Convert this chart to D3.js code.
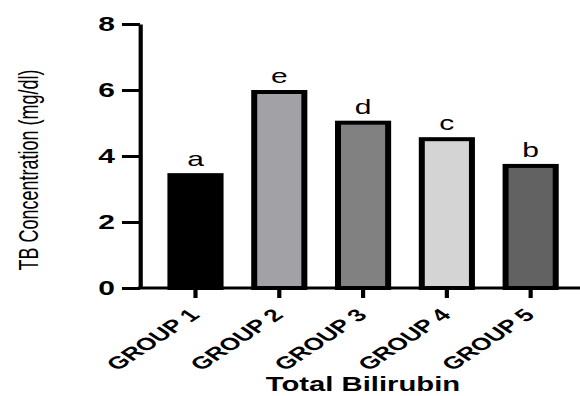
<!DOCTYPE html>
<html>
<head>
<meta charset="utf-8">
<script src="https://cdn.jsdelivr.net/npm/d3@7"></script>
<style>
  html, body { margin: 0; padding: 0; background: #fff; }
  svg { display: block; }
  text { font-family: "Liberation Sans", Arial, sans-serif; }
</style>
</head>
<body>
<div id="chart"></div>
<script>
// data
var groups = ["GROUP 1", "GROUP 2", "GROUP 3", "GROUP 4", "GROUP 5"];
var values = [3.48, 6.0, 5.07, 4.57, 3.76];
var letters = ["a", "e", "d", "c", "b"];
var fills = ["#000000", "#a2a2a6", "#818181", "#d4d4d4", "#626262"];
var yTicks = [0, 2, 4, 6, 8];

var W = 580, H = 396;
// the original figure is stretched sideways, so draw in a narrow space and scale x
var sx = 1.5;

var svg = d3.select("#chart").append("svg")
	.attr("width", W)
	.attr("height", H);

var g = svg.append("g")
	.attr("transform", "scale(" + sx + ",1)");

var axisX = 93.3, axisRight = W / sx;

var y = d3.scaleLinear().domain([0, 8]).range([288, 24]);
var x = d3.scaleBand().domain(groups)
	.range([102.4, 381.7])
	.paddingInner(0.33)
	.paddingOuter(0.165);

// bars
var sw = 4;
g.selectAll(".bar").data(values).enter().append("rect")
	.attr("class", "bar")
	.attr("x", function(d, i) { return x(groups[i]) + sw / 2; })
	.attr("y", function(d) { return y(d) + sw / 2; })
	.attr("width", x.bandwidth() - sw)
	.attr("height", function(d) { return y(0) - y(d) - sw / 2; })
	.attr("fill", function(d, i) { return fills[i]; })
	.attr("stroke", "#000")
	.attr("stroke-width", sw);

// letters above bars
g.selectAll(".lbl").data(values).enter().append("text")
	.attr("class", "lbl")
	.attr("x", function(d, i) { return x(groups[i]) + x.bandwidth() / 2; })
	.attr("y", function(d) { return y(d) - 7; })
	.attr("text-anchor", "middle")
	.attr("font-size", 20)
	.attr("fill", "#000")
	.text(function(d, i) { return letters[i]; });

// y axis
var yAxis = d3.axisLeft(y).tickValues(yTicks).tickSize(12).tickSizeOuter(0).tickPadding(4.6);
var ya = g.append("g")
	.attr("transform", "translate(" + axisX + ",0)")
	.call(yAxis);
ya.select(".domain").attr("stroke-width", 2.8).attr("stroke", "#000");
ya.selectAll(".tick line").attr("stroke-width", 3).attr("stroke", "#000");
ya.selectAll(".tick text")
	.attr("font-size", 20)
	.attr("font-weight", "bold")
	.attr("fill", "#000")
	.style("font-family", "'Liberation Sans', Arial, sans-serif");

// x axis
var xAxis = d3.axisBottom(x).tickSize(10).tickSizeOuter(0);
var xa = g.append("g")
	.attr("transform", "translate(0," + y(0) + ")")
	.call(xAxis);
xa.select(".domain").remove();
xa.selectAll(".tick line").attr("stroke-width", 2.8).attr("stroke", "#000");
xa.selectAll(".tick text")
	.attr("font-size", 17.5)
	.attr("font-weight", "bold")
	.attr("fill", "#000")
	.style("font-family", "'Liberation Sans', Arial, sans-serif")
	.attr("text-anchor", "end")
	.attr("dy", null)
	.attr("y", null)
	.attr("transform", "translate(3.5,28) rotate(-45)");

g.append("line")
	.attr("x1", axisX - 1.4)
	.attr("x2", axisRight)
	.attr("y1", y(0))
	.attr("y2", y(0))
	.attr("stroke", "#000")
	.attr("stroke-width", 3);

// axis titles
g.append("text")
	.attr("transform", "translate(25.5,170) rotate(-90)")
	.attr("text-anchor", "middle")
	.attr("font-size", 18)
	.attr("fill", "#000")
	.text("TB Concentration (mg/dl)");

g.append("text")
	.attr("x", 242)
	.attr("y", 391)
	.attr("text-anchor", "middle")
	.attr("font-size", 19.5)
	.attr("font-weight", "bold")
	.attr("fill", "#000")
	.text("Total Bilirubin");
</script>
</body>
</html>
